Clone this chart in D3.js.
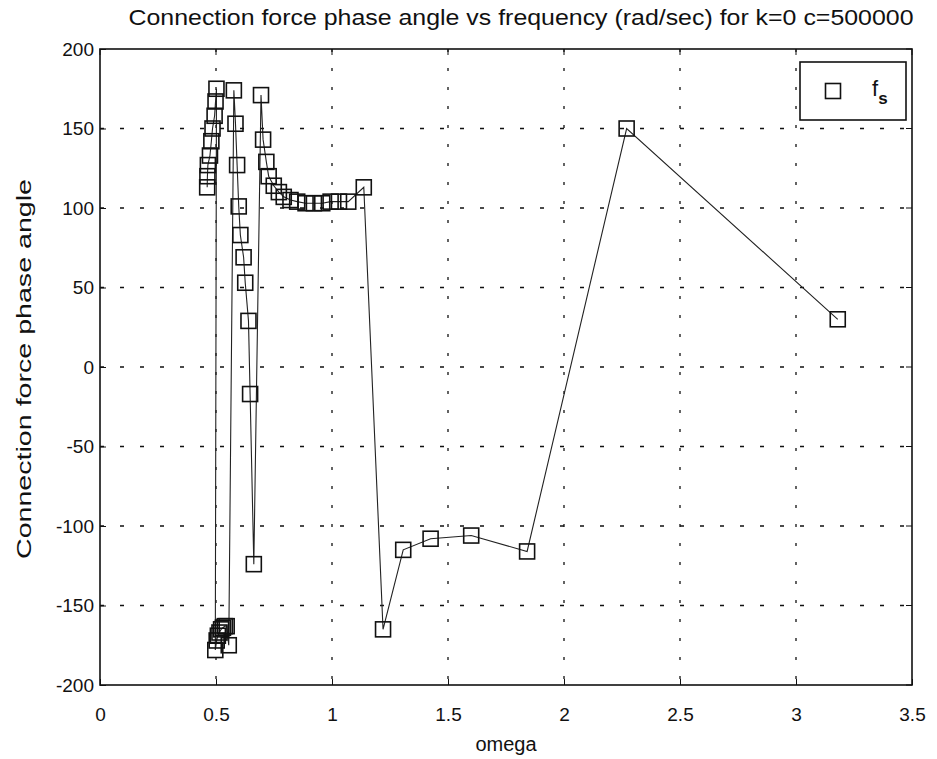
<!DOCTYPE html>
<html><head><meta charset="utf-8">
<script src="https://cdn.jsdelivr.net/npm/d3@7"></script>
<style>body{margin:0;background:#fff}svg{display:block}</style>
</head><body>
<script>
const omega = [0.462,0.463,0.465,0.474,0.480,0.485,0.494,0.498,0.502,
 0.497,0.503,0.508,0.515,0.522,0.530,0.538,0.546,0.555,
 0.577,0.584,0.591,0.598,0.605,0.619,0.626,0.640,0.647,0.663,
 0.694,0.703,0.717,0.727,0.749,0.771,0.792,0.821,0.850,0.886,0.922,0.958,0.994,1.030,1.070,1.137,
 1.22,1.307,1.425,1.60,1.841,2.27,3.18];
const phase = [113,120,127,133,142,150,158,167,175,
 -178,-172,-169,-167,-165,-164,-163,-163,-175,
 174,153,127,101,83,69,53,29,-17,-124,
 171,143,129,120,114,110,107,105,104,103,103,103,104,104,104,113,
 -165,-115,-108,-106,-116,150,30];
const xTicks = [0,0.5,1,1.5,2,2.5,3,3.5];
const yTicks = [-200,-150,-100,-50,0,50,100,150,200];
const titleText = "Connection force phase angle vs frequency (rad/sec) for k=0 c=500000";
const xLabel = "omega";
const yLabel = "Connection force phase angle";
const legendLabel = "f";
const legendSub = "s";

const W = 937, H = 759;
const m = {left:100, right:25, top:49, bottom:74};
const FF = "'Liberation Sans', Arial, sans-serif";
const svg = d3.select("body").append("svg").attr("width",W).attr("height",H)
  .style("font-family",FF);
const x = d3.scaleLinear().domain([0,3.5]).range([m.left, W-m.right]);
const y = d3.scaleLinear().domain([-200,200]).range([H-m.bottom, m.top]);
const ink = "#111";

// grid
svg.append("g").selectAll("line").data(xTicks.slice(1,-1)).join("line")
  .attr("x1",d=>x(d)).attr("x2",d=>x(d)).attr("y1",y(200)).attr("y2",y(-200))
  .attr("stroke",ink).attr("stroke-width",1.3).attr("stroke-dasharray","3,16");
svg.append("g").selectAll("line").data(yTicks.slice(1,-1)).join("line")
  .attr("y1",d=>y(d)).attr("y2",d=>y(d)).attr("x1",x(0)).attr("x2",x(3.5))
  .attr("stroke",ink).attr("stroke-width",1.3).attr("stroke-dasharray","4,16");

// axes
const fs = 19;
const fmt = d => String(d);
const ax = svg.append("g").attr("transform",`translate(0,${y(-200)})`)
  .call(d3.axisBottom(x).tickValues(xTicks).tickFormat(fmt).tickSizeInner(-6).tickSizeOuter(0).tickPadding(23));
const ay = svg.append("g").attr("transform",`translate(${x(0)},0)`)
  .call(d3.axisLeft(y).tickValues(yTicks).tickFormat(fmt).tickSizeInner(-6).tickSizeOuter(0).tickPadding(6));
[ax,ay].forEach(g=>{g.select(".domain").remove();g.selectAll("line").attr("stroke",ink);
  g.selectAll("text").attr("font-size",fs).attr("fill",ink).style("font-family",FF);});
// top/right ticks
svg.append("g").selectAll("line").data(xTicks).join("line")
  .attr("x1",d=>x(d)).attr("x2",d=>x(d)).attr("y1",y(200)).attr("y2",y(200)+6).attr("stroke",ink);
svg.append("g").selectAll("line").data(yTicks).join("line")
  .attr("x1",x(3.5)).attr("x2",x(3.5)-6).attr("y1",d=>y(d)).attr("y2",d=>y(d)).attr("stroke",ink);
// box
svg.append("rect").attr("x",x(0)).attr("y",y(200)).attr("width",x(3.5)-x(0)).attr("height",y(-200)-y(200))
  .attr("fill","none").attr("stroke",ink).attr("stroke-width",1.6);

// line + markers
const pts = omega.map((o,i)=>[o,phase[i]]);
svg.append("path").datum(pts)
  .attr("d",d3.line().x(d=>x(d[0])).y(d=>y(d[1])))
  .attr("fill","none").attr("stroke","#222").attr("stroke-width",1.1);
const s = 15;
svg.append("g").selectAll("rect").data(pts).join("rect")
  .attr("x",d=>x(d[0])-s/2).attr("y",d=>y(d[1])-s/2).attr("width",s).attr("height",s)
  .attr("fill","none").attr("stroke",ink).attr("stroke-width",1.6);

// title and labels
svg.append("text").attr("x",521).attr("y",25).attr("text-anchor","middle")
  .attr("font-size",22).attr("fill",ink)
  .attr("textLength",785).attr("lengthAdjust","spacingAndGlyphs").text(titleText);
svg.append("text").attr("x",(x(0)+x(3.5))/2).attr("y",H-8).attr("text-anchor","middle")
  .attr("font-size",20).attr("fill",ink).text(xLabel);
svg.append("text").attr("transform",`translate(31,369) rotate(-90)`).attr("text-anchor","middle")
  .attr("font-size",21).attr("fill",ink)
  .attr("textLength",380).attr("lengthAdjust","spacingAndGlyphs").text(yLabel);

// legend
const lg = svg.append("g");
const lx = 800, ly = 62, lw = 106, lh = 58;
lg.append("rect").attr("x",lx).attr("y",ly).attr("width",lw).attr("height",lh).attr("fill","#fff").attr("stroke",ink).attr("stroke-width",1.6);
lg.append("rect").attr("x",lx+33-s/2).attr("y",ly+lh/2-s/2).attr("width",s).attr("height",s).attr("fill","none").attr("stroke",ink).attr("stroke-width",1.6);
const lt = lg.append("text").attr("x",lx+72).attr("y",ly+lh/2+5).attr("font-size",22).attr("fill",ink);
lt.append("tspan").text(legendLabel);
lt.append("tspan").attr("dy",8).attr("font-size",17).attr("font-weight","bold").text(legendSub);
</script>
</body></html>
